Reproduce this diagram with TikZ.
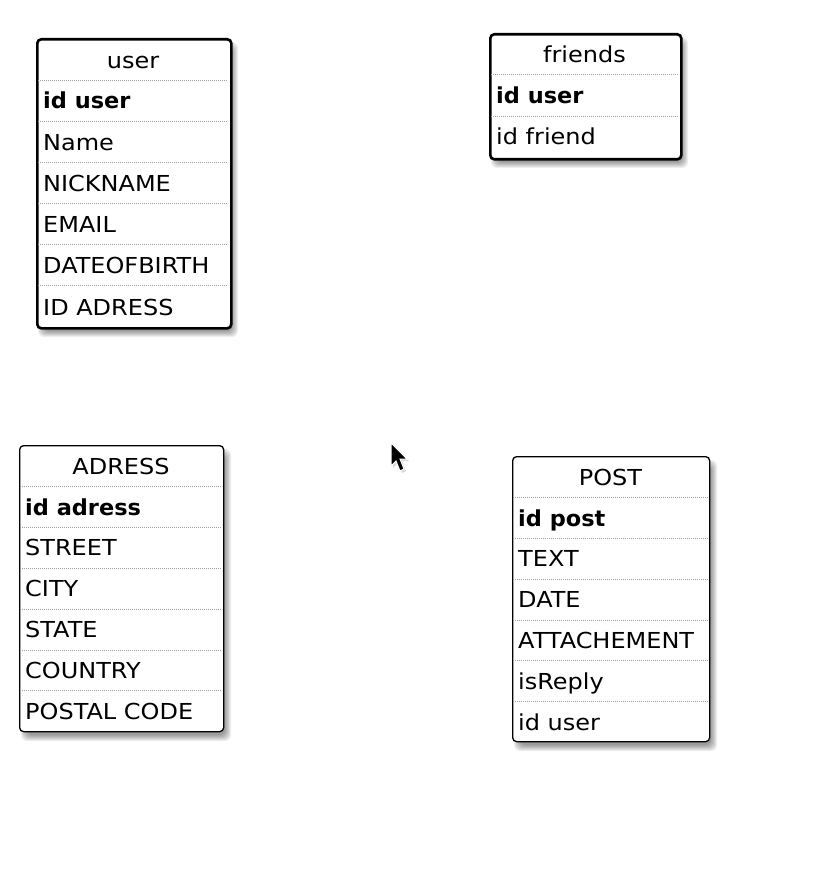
\documentclass[tikz,border=0pt]{standalone}
\usepackage{fontspec}
\setmainfont{DejaVu Sans}[FakeStretch=1.09, BoldFeatures={FakeStretch=1.02}]
\tikzset{
  tbl/.style={draw=black, rounded corners=4pt, fill=white, line width=1.3pt, inner sep=0pt, anchor=north west},
  sel/.style={line width=2.6pt},
  sep/.style={draw=gray!75, line width=0.9pt, dash pattern=on 1pt off 1pt},
  fld/.style={anchor=base west, inner sep=0pt, font=\fontsize{22}{26}\selectfont},
  ttl/.style={anchor=base, inner sep=0pt, font=\fontsize{22}{26}\selectfont},
  key/.style={anchor=base west, inner sep=0pt, font=\fontsize{22}{26}\selectfont\bfseries},
  shd/.style={fill=black, fill opacity=0.065, rounded corners=6pt, draw=none}
}
\newcommand\tblshadow[4]{% left top right bottom
  \foreach \s in {-3,-2,-1,0,1,2,3}{
    \fill[shd] (#1+5-\s,#2+7-\s) rectangle (#3+5+\s,#4+7+\s);
  }}
\begin{document}
\begin{tikzpicture}[x=1pt,y=-1pt]
\useasboundingbox (0,0) rectangle (817,896);
\fill[white] (0,0) rectangle (817,896);

% ---------- user ----------
\tblshadow{36}{38}{230}{327}
\node[tbl, sel, minimum width=194pt, minimum height=289pt] (user) at (36,38) {};
\foreach \yy in {80,121,162,203,244,285} \draw[sep] (38,\yy) -- (228,\yy);
\node[ttl] (user-t) at (133,69) {user};
\node[key] (user-k) at (43,109) {id user};
\foreach \txt [count=\k] in {Name,NICKNAME,EMAIL,DATEOFBIRTH,ID ADRESS}
  \node[fld] (user-\k) at (43,109+41.2*\k) {\txt};

% ---------- friends ----------
\tblshadow{489}{33}{680}{158}
\node[tbl, sel, minimum width=191pt, minimum height=125pt] (friends) at (489,33) {};
\foreach \yy in {74,116} \draw[sep] (491,\yy) -- (678,\yy);
\node[ttl] (friends-t) at (584.5,63) {friends};
\node[key] (friends-k) at (496,104) {id user};
\node[fld] (friends-1) at (496,145) {id friend};

% ---------- ADRESS ----------
\tblshadow{19}{445}{223}{731}
\node[tbl, minimum width=204pt, minimum height=286pt] (adress) at (19,445) {};
\foreach \yy in {486,527,568,609,650,690} \draw[sep] (20,\yy) -- (222,\yy);
\node[ttl] (adress-t) at (121,474) {ADRESS};
\node[key] (adress-k) at (25,515) {id adress};
\foreach \txt [count=\k] in {STREET,CITY,STATE,COUNTRY,POSTAL CODE}
  \node[fld] (adress-\k) at (25,515+40.9*\k) {\txt};

% ---------- POST ----------
\tblshadow{512}{456}{709}{741}
\node[tbl, minimum width=197pt, minimum height=285pt] (post) at (512,456) {};
\foreach \yy in {497,538,579,620,660,701} \draw[sep] (513,\yy) -- (708,\yy);
\node[ttl] (post-t) at (610.5,485) {POST};
\node[key] (post-k) at (518,526) {id post};
\foreach \txt [count=\k] in {TEXT,DATE,ATTACHEMENT,isReply,id user}
  \node[fld] (post-\k) at (518,526+40.8*\k) {\txt};

% ---------- mouse pointer ----------
\fill[black, opacity=0.15] (393,445) -- (393,468) -- (398,463) -- (402,473) -- (406,471) -- (402,461) -- (409,461) -- cycle;
\filldraw[fill=black, draw=white, line width=1pt, line join=miter] (391,443) -- (391,466) -- (396,461) -- (400,471) -- (404,469) -- (400,459) -- (407,459) -- cycle;
\end{tikzpicture}
\end{document}
